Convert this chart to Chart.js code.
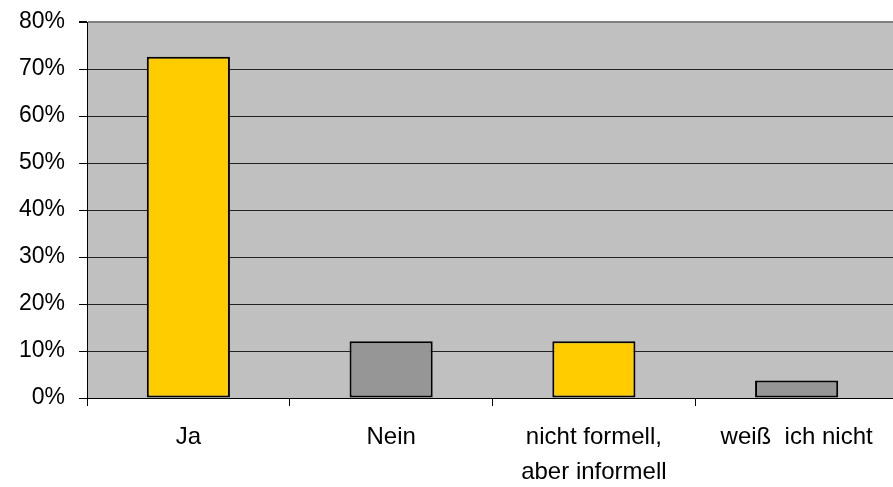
<!DOCTYPE html>
<html>
<head>
<meta charset="utf-8">
<script src="https://cdn.jsdelivr.net/npm/chart.js@4"></script>
<style>
    html, body { margin: 0; padding: 0; background: #fff; overflow: hidden; }
    #umfrageChart { display: block; }
</style>
</head>
<body>
<canvas id="umfrageChart" width="900" height="487"></canvas>
<script>
// Antworten und Anteile in Prozent
const categories = ["Ja", "Nein", ["nicht formell,", "aber informell"], "weiß  ich nicht"];
const shares = [72.6, 12.1, 12.1, 3.7];
const barColors = ["#FFCC00", "#969696", "#FFCC00", "#969696"];
const yTicks = [0, 10, 20, 30, 40, 50, 60, 70, 80];

// grauer Hintergrund nur innerhalb der Zeichenfläche
const plotBackground = {
    id: 'plotBackground',
    beforeDraw(chart) {
        const { ctx, chartArea } = chart;
        ctx.save();
        ctx.fillStyle = '#C0C0C0';
        ctx.fillRect(chartArea.left, chartArea.top, chartArea.right - chartArea.left, chartArea.bottom - chartArea.top);
        ctx.restore();
    }
};

const ctx = document.getElementById("umfrageChart").getContext("2d");
new Chart(ctx, {
    type: 'bar',
    data: {
        labels: categories,
        datasets: [{
            data: shares,
            backgroundColor: barColors,
            borderColor: '#000',
            borderWidth: 2,
            borderSkipped: false,
            categoryPercentage: 1,
            barPercentage: 0.41
        }]
    },
    options: {
        responsive: false,
        animation: false,
        layout: { padding: { top: 22, right: 2, bottom: 0, left: 0 } },
        plugins: {
            legend: { display: false },
            tooltip: { enabled: false }
        },
        scales: {
            x: {
                offset: true,
                grid: {
                    offset: true,
                    drawOnChartArea: false,
                    tickLength: 8,
                    tickColor: '#000'
                },
                border: { color: '#000', width: 1 },
                ticks: {
                    color: '#000',
                    padding: 14,
                    maxRotation: 0,
                    autoSkip: false,
                    font: { family: "'Liberation Sans', Arial, sans-serif", size: 24, lineHeight: '35px' }
                },
                afterFit(scale) { scale.height = 89; }
            },
            y: {
                min: 0,
                max: 80,
                afterBuildTicks(scale) { scale.ticks = yTicks.map(v => ({ value: v })); },
                grid: {
                    color: c => c.tick && c.tick.value === 80 ? '#808080' : '#222',
                    lineWidth: c => c.tick && c.tick.value === 80 ? 2 : 1,
                    tickLength: 8,
                    tickColor: '#000'
                },
                border: { color: '#000', width: 1 },
                ticks: {
                    color: '#000',
                    padding: 14,
                    font: { family: "'Liberation Sans', Arial, sans-serif", size: 23 },
                    callback: v => v + '%'
                },
                afterFit(scale) {
                    scale.width = 87;
                    // Beschriftungen dürfen über den Rand hinausragen
                    scale.paddingTop = 0;
                    scale.paddingBottom = 0;
                }
            }
        }
    },
    plugins: [plotBackground]
});
</script>
</body>
</html>
